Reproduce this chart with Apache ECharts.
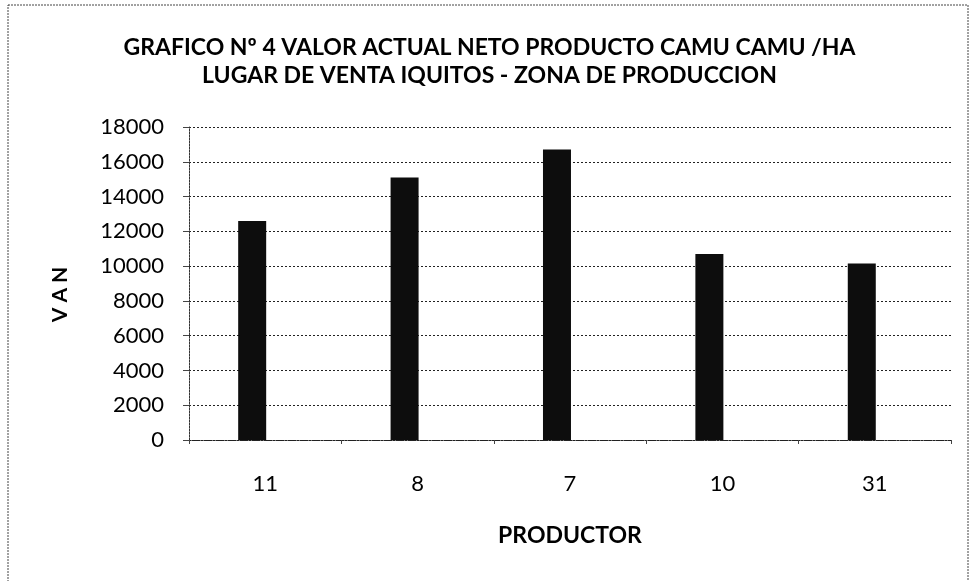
<!DOCTYPE html>
<html>
<head>
<meta charset="utf-8">
<script src="https://cdn.jsdelivr.net/npm/echarts@6/dist/echarts.min.js"></script>
<style>
html,body{margin:0;padding:0;background:#fff;}
#chart{width:979px;height:581px;}
</style>
</head>
<body>
<div id="chart"></div>
<script>
var titleLines = ['GRAFICO Nº 4 VALOR ACTUAL NETO PRODUCTO CAMU CAMU /HA', 'LUGAR DE VENTA IQUITOS - ZONA DE PRODUCCION'];
var categories = ['11', '8', '7', '10', '31'];
var vanValues = [12600, 15100, 16700, 10700, 10150];
var yTicks = [0, 2000, 4000, 6000, 8000, 10000, 12000, 14000, 16000, 18000];
var xAxisName = 'PRODUCTOR';
var yAxisName = 'V A N';

var chart = echarts.init(document.getElementById('chart'), null, {renderer: 'canvas'});
var font = 'Lato, "Open Sans", sans-serif';
var option = {
  backgroundColor: '#ffffff',
  animation: false,
  title: {
    text: titleLines.join('\n'),
    left: 'center',
    top: 29,
    textStyle: {fontFamily: font, fontSize: 23, fontWeight: 'bold', color: '#000', lineHeight: 28}
  },
  graphic: [{
    type: 'rect',
    shape: {x: 8, y: 5, width: 960, height: 590},
    style: {fill: 'none', stroke: '#444', lineWidth: 1, lineDash: [2, 1]}
  }],
  grid: {left: 189, right: 28, top: 127, bottom: 141, containLabel: false},
  xAxis: {
    type: 'category',
    data: categories,
    name: xAxisName,
    nameLocation: 'middle',
    nameGap: 84,
    nameTextStyle: {fontFamily: font, fontSize: 23, fontWeight: 'bold', color: '#000'},
    axisLine: {show: true, lineStyle: {color: '#222', type: [2, 1], width: 1}},
    axisTick: {show: true, length: 4, lineStyle: {color: '#444'}},
    axisLabel: {fontFamily: font, fontSize: 22, color: '#000', margin: 33},
    splitLine: {show: false}
  },
  yAxis: {
    type: 'value',
    min: 0, max: 18000, interval: 2000,
    name: yAxisName,
    nameLocation: 'middle',
    nameGap: 118,
    nameRotate: 90,
    nameTextStyle: {fontFamily: font, fontSize: 21, fontWeight: 'bold', color: '#000', padding: [0, 22, 0, 0]},
    axisLine: {show: true, lineStyle: {color: '#333', type: [2, 1], width: 1}},
    axisTick: {show: true, inside: false, length: 6, lineStyle: {color: '#444'}},
    axisLabel: {fontFamily: font, fontSize: 22, color: '#000', margin: 25,
      formatter: function (v) { return yTicks.indexOf(v) >= 0 ? String(v) : ''; }},
    splitLine: {show: true, lineStyle: {color: '#222', type: [2, 2], width: 1}}
  },
  series: [{
    type: 'bar',
    data: vanValues,
    barWidth: 28,
    barGap: '-7%',
    itemStyle: {color: '#0d0d0d'}
  }, {
    type: 'bar',
    data: [],
    barWidth: 28,
    silent: true,
    itemStyle: {color: 'rgba(0,0,0,0)'}
  }]
};
chart.setOption(option);
</script>
</body>
</html>
